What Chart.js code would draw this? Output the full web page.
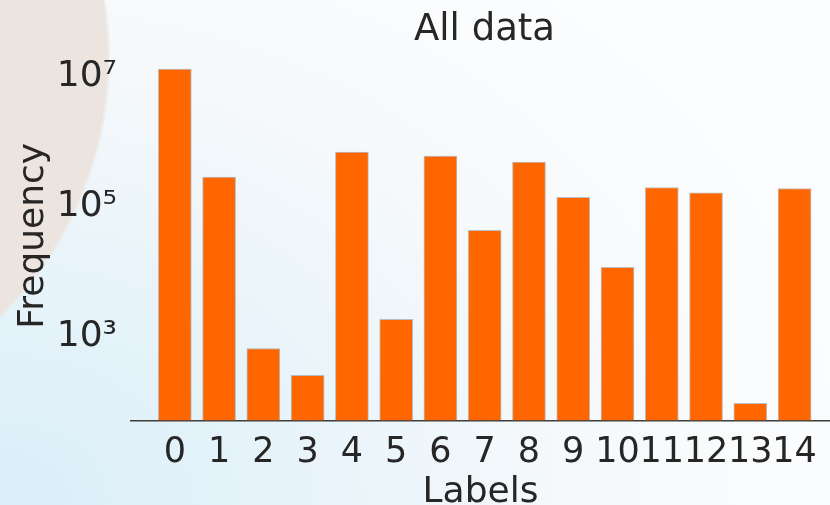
<!DOCTYPE html>
<html>
<head>
<meta charset="utf-8">
<script src="https://cdn.jsdelivr.net/npm/chart.js@4/dist/chart.umd.min.js"></script>
<style>
  html, body { margin: 0; padding: 0; width: 830px; height: 505px; overflow: hidden; }
  body {
    background:
      radial-gradient(circle 366px at -255px 57px, #ece5df 0, #ece5df 362px, rgba(236,229,223,0) 366px),
      radial-gradient(ellipse 900px 700px at 0% 100%, #d9eef8 0%, #e8f4fa 35%, #f6f9fb 65%, #fcfdfe 100%);
  }
  #wrap { position: absolute; left: 0; top: 0; width: 830px; height: 505px; }
</style>
</head>
<body>
<div id="wrap"><canvas id="c" width="830" height="505"></canvas></div>
<script>
// ---- data ----
const categories = ['0','1','2','3','4','5','6','7','8','9','10','11','12','13','14'];
const frequencies = [13300000, 286000, 650, 250, 695000, 1830, 603000, 43400, 486000, 140000, 11600, 198000, 163000, 93, 191000];
const yTickValues = [1e3, 1e5, 1e7];
const yTickLabels = ['10³', '10⁵', '10⁷'];
const chartTitle = 'All data';
const xTitle = 'Labels';
const yTitle = 'Frequency';

const textColor = '#262626';
const font = 'DejaVu Sans';

const titleShift = {
  id: 'titleShift',
  afterLayout(chart) {
    const t = chart.titleBlock;
    if (t) {
      t.left = chart.chartArea.left;
      t.right = chart.chartArea.right + 8;
      t.width = t.right - t.left;
    }
  }
};

new Chart(document.getElementById('c'), {
  type: 'bar',
  data: {
    datasets: [{
      label: 'Frequency',
      data: frequencies.map((v, i) => ({ x: i, y: v })),
      backgroundColor: '#ff6600',
      borderColor: 'rgba(140,140,140,0.55)',
      borderWidth: 1,
      borderSkipped: 'bottom',
      barThickness: 33
    }]
  },
  plugins: [titleShift],
  options: {
    responsive: false,
    animation: false,
    devicePixelRatio: 1,
    layout: { padding: 0 },
    plugins: {
      legend: { display: false },
      tooltip: { enabled: false },
      title: {
        display: true,
        text: chartTitle,
        color: textColor,
        font: { family: font, size: 37, weight: 'normal', lineHeight: 1.14 },
        padding: { top: 9, bottom: 0 }
      }
    },
    scales: {
      x: {
        type: 'linear',
        offset: false,
        bounds: 'data',
        min: -0.99,
        max: 14.8,
        grid: { display: false, drawTicks: false, offset: false },
        border: { display: true, color: '#3d3d3d', width: 1.6 },
        afterBuildTicks(scale) {
          scale.ticks = categories.map((_, i) => ({ value: i }));
        },
        afterFit(scale) {
          scale.height = 84.5;
          scale.paddingLeft = 0;
          scale.paddingRight = 0;
        },
        ticks: {
          autoSkip: false,
          maxRotation: 0,
          minRotation: 0,
          padding: 11,
          color: textColor,
          font: { family: font, size: 35, lineHeight: 1.2 },
          callback: (v) => categories[v] !== undefined ? categories[v] : ''
        },
        title: {
          display: true,
          text: xTitle,
          color: textColor,
          font: { family: font, size: 36, lineHeight: 0.7 },
          padding: { top: 0, bottom: 0 }
        }
      },
      y: {
        type: 'logarithmic',
        bounds: 'data',
        min: 50.5,
        max: 25000000,
        grid: { display: false, drawTicks: false },
        border: { display: false },
        afterBuildTicks(scale) {
          scale.ticks = yTickValues.map(v => ({ value: v }));
        },
        afterFit(scale) { scale.width = 131; },
        ticks: {
          padding: 14,
          color: textColor,
          font: { family: font, size: 36, lineHeight: 1.2 },
          callback: (v) => {
            const k = yTickValues.indexOf(v);
            return k >= 0 ? yTickLabels[k] : '';
          }
        },
        title: {
          display: true,
          text: yTitle,
          color: textColor,
          font: { family: font, size: 36, lineHeight: 1 },
          padding: { top: 16, bottom: 0 }
        }
      }
    }
  }
});
</script>
</body>
</html>
